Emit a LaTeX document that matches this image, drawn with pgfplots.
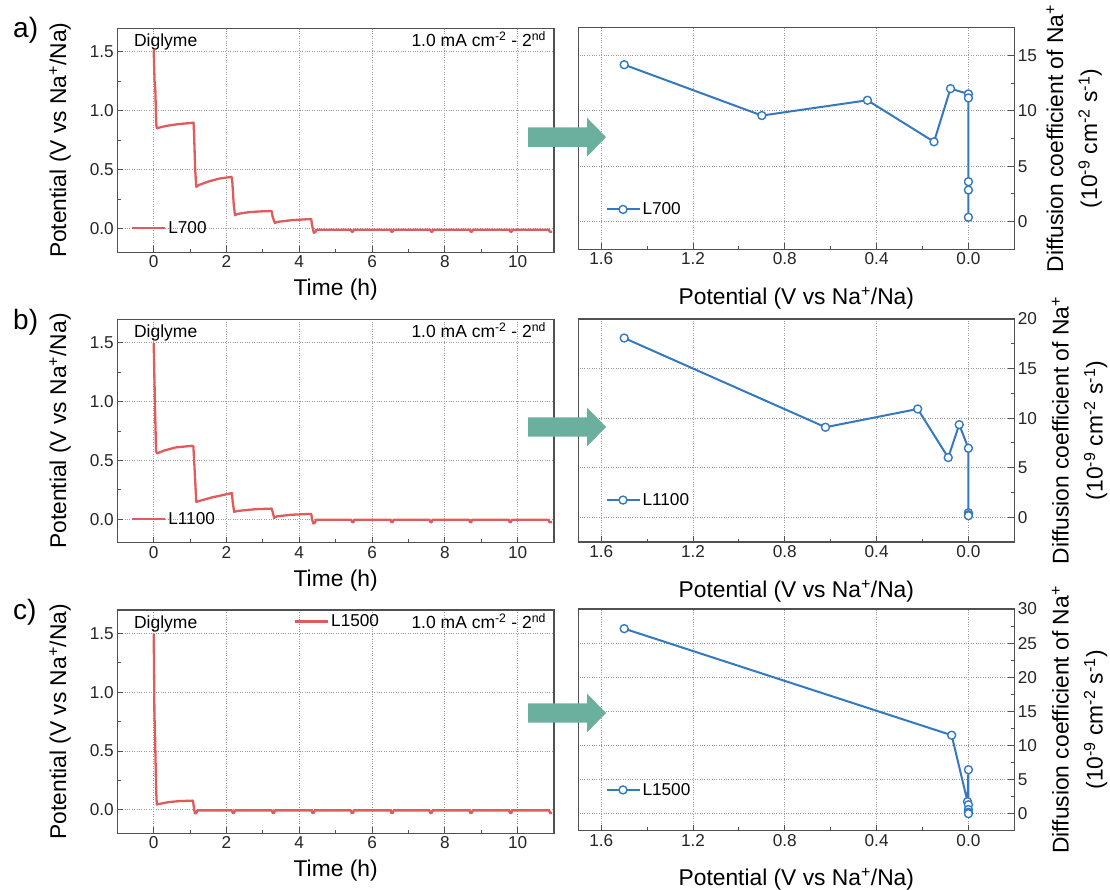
\documentclass[border=0pt]{standalone}
\usepackage{pgfplots}
\pgfplotsset{compat=1.18}
\usepackage{fontspec}
\setmainfont{Liberation Sans}
\definecolor{cred}{HTML}{E05C5C}
\definecolor{cblue}{HTML}{3479BF}
\definecolor{cteal}{HTML}{6BAF9F}
\definecolor{caxis}{HTML}{505050}
\newcommand{\tfont}{\fontsize{17.2}{19}\selectfont}
\newcommand{\afont}{\fontsize{17.5}{20}\selectfont}
\newcommand{\lfont}{\fontsize{22.8}{26}\selectfont}
\pgfplotsset{
  base/.style={
    scale only axis,
    axis line style={caxis, line width=1.2pt},
    every tick/.style={caxis, line width=1pt},
    major tick length=6pt, minor tick length=3.5pt,
    xmajorgrids, ymajorgrids,
    grid style={dotted, black!40, line width=0.8pt},
    tick label style={font=\tfont, text=black!85},
    /pgf/number format/assume math mode=true,
    legend style={draw=none, fill=none, font=\tfont, inner sep=0pt, nodes={inner sep=2pt}},
    legend cell align=left,
    legend image code/.code={\draw[mark repeat=2,mark phase=2,##1] plot coordinates {(0pt,0pt) (16.5pt,0pt) (33pt,0pt)};},
  },
  leftax/.style={base, width=436.7pt, height=224pt,
    xmin=-1, xmax=11, ymin=-0.2, ymax=1.7,
    xtick={0,2,4,6,8,10}, ytick={0,0.5,1,1.5},
    minor x tick num=1, minor y tick num=1,
    xtick pos=bottom, ytick pos=left,
    yticklabel style={/pgf/number format/.cd, fixed, fixed zerofill, precision=1},
    xlabel={Time (h)}, ylabel={Potential (V vs Na\textsuperscript{+}/Na)},
    label style={font=\lfont},
    xlabel style={at={(axis description cs:0.5,-0.168)}, anchor=center},
    ylabel style={at={(axis description cs:-0.131,0.5)}, anchor=center}},
  rightax/.style={base, width=436pt,
    xmin=-0.2, xmax=1.7, x dir=reverse,
    xtick={0,0.4,0.8,1.2,1.6}, minor x tick num=1, minor y tick num=1,
    xtick pos=bottom, ytick pos=right, yticklabel pos=right,
    xticklabel style={/pgf/number format/.cd, fixed, fixed zerofill, precision=1},
    xlabel={Potential (V vs Na\textsuperscript{+}/Na)},
    ylabel={Diffusion coefficient of Na\textsuperscript{+}\\(10\textsuperscript{-9} cm\textsuperscript{-2} s\textsuperscript{-1})},
    label style={font=\lfont},
    xlabel style={at={(axis description cs:0.5,-0.22)}, anchor=center},
    ylabel style={align=center, font=\fontsize{22.8}{34}\selectfont, anchor=center}},
  redline/.style={cred, line width=2.3pt, no markers, line join=round},
  blueline/.style={cblue, line width=2pt, line join=round, mark=*, mark size=4pt, mark options={fill=white, draw=cblue, line width=1.4pt}},
}
\begin{document}
\begin{tikzpicture}
\path[use as bounding box] (0,0) rectangle (1110pt,-890pt);

% ---------- row a, left ----------
\begin{axis}[leftax, at={(117.3pt,-28.3pt)}, anchor=north west,
  legend style={at={(axis description cs:0.031,0.107)}, anchor=west}]
\addplot[redline] coordinates {
(0,1.52) (0.01,1.40) (0.025,1.25) (0.045,1.18) (0.06,1.0) (0.075,0.87) (0.09,0.852)
(0.2,0.862) (0.4,0.875) (0.7,0.888) (1.0,0.896) (1.095,0.900)
(1.11,0.80) (1.14,0.50) (1.17,0.355) (1.25,0.372) (1.5,0.400) (1.8,0.425) (2.14,0.440)
(2.16,0.40) (2.20,0.20) (2.235,0.114) (2.3,0.125) (2.6,0.140) (3.0,0.148) (3.24,0.150)
(3.27,0.10) (3.33,0.048) (3.4,0.058) (3.8,0.073) (4.33,0.082)
(4.35,0.03) (4.40,-0.034) (4.44,-0.030) (4.47,-0.008)
(5.42,-0.008) (5.44,-0.025) (5.48,-0.025) (5.50,-0.008)
(6.51,-0.008) (6.53,-0.025) (6.57,-0.025) (6.59,-0.008)
(7.60,-0.008) (7.62,-0.025) (7.66,-0.025) (7.68,-0.008)
(8.69,-0.008) (8.71,-0.025) (8.75,-0.025) (8.77,-0.008)
(9.78,-0.008) (9.80,-0.025) (9.84,-0.025) (9.86,-0.008)
(10.86,-0.008) (10.88,-0.025) (10.95,-0.025)
};
\addlegendentry{L700}
\node[anchor=base west, inner sep=0pt, font=\afont] at (rel axis cs:0.038,0.918) {Diglyme};
\node[anchor=base east, inner sep=0pt, font=\afont] at (rel axis cs:0.982,0.918) {1.0 mA cm\textsuperscript{-2} - 2\textsuperscript{nd}};
\end{axis}

% ---------- row a, right ----------
\begin{axis}[rightax, height=221.6pt, at={(578.3pt,-27.7pt)}, anchor=north west,
  ymin=-2.5, ymax=17.5, ytick={0,5,10,15},
  ylabel style={at={(axis description cs:1.137,0.5)}},
  legend style={at={(axis description cs:0.062,0.18)}, anchor=west}]
\addplot[blueline] coordinates {
(1.50,14.16) (0.90,9.57) (0.44,10.95) (0.15,7.2) (0.078,12.0) (0.0,11.52) (0.0,11.16) (0.0,3.6) (0.0,2.85) (0.0,0.39)
};
\addlegendentry{L700}
\end{axis}

% ---------- row b, left ----------
\begin{axis}[leftax, height=223.4pt, at={(117.3pt,-319.3pt)}, anchor=north west,
  legend style={at={(axis description cs:0.031,0.106)}, anchor=west}]
\addplot[redline] coordinates {
(0,1.50) (0.02,1.2) (0.04,0.9) (0.065,0.58) (0.09,0.56)
(0.3,0.585) (0.6,0.61) (1.05,0.624) (1.09,0.62)
(1.12,0.45) (1.17,0.147) (1.25,0.155) (1.6,0.185) (2.15,0.222)
(2.17,0.15) (2.21,0.062) (2.3,0.07) (2.8,0.085) (3.24,0.09)
(3.27,0.06) (3.31,0.012) (3.4,0.025) (3.8,0.038) (4.33,0.045)
(4.35,0.0) (4.39,-0.037) (4.43,-0.03) (4.46,-0.005)
(5.43,-0.005) (5.45,-0.025) (5.49,-0.025) (5.51,-0.005)
(6.51,-0.005) (6.53,-0.025) (6.57,-0.025) (6.59,-0.005)
(7.58,-0.005) (7.60,-0.025) (7.64,-0.025) (7.66,-0.005)
(8.67,-0.005) (8.69,-0.025) (8.73,-0.025) (8.75,-0.005)
(9.76,-0.005) (9.78,-0.025) (9.82,-0.025) (9.84,-0.005)
(10.85,-0.005) (10.87,-0.025) (10.95,-0.025)
};
\addlegendentry{L1100}
\node[anchor=base west, inner sep=0pt, font=\afont] at (rel axis cs:0.038,0.918) {Diglyme};
\node[anchor=base east, inner sep=0pt, font=\afont] at (rel axis cs:0.982,0.918) {1.0 mA cm\textsuperscript{-2} - 2\textsuperscript{nd}};
\end{axis}

% ---------- row b, right ----------
\begin{axis}[rightax, height=223pt, at={(578.3pt,-319pt)}, anchor=north west,
  ymin=-2.5, ymax=20, ytick={0,5,10,15,20},
  ylabel style={at={(axis description cs:1.15,0.5)}},
  legend style={at={(axis description cs:0.062,0.188)}, anchor=west}]
\addplot[blueline] coordinates {
(1.50,18.08) (0.623,9.08) (0.221,10.92) (0.088,6.02) (0.04,9.34) (0.0,6.96) (0.0,0.45) (0.0,0.25) (0.0,0.15)
};
\addlegendentry{L1100}
\end{axis}

% ---------- row c, left ----------
\begin{axis}[leftax, height=223.3pt, at={(117.3pt,-610pt)}, anchor=north west,
  legend style={at={(axis description cs:0.404,0.948)}, anchor=west}]
\addplot[redline] coordinates {
(0,1.50) (0.01,1.2) (0.02,0.82) (0.04,0.6) (0.05,0.43) (0.07,0.15) (0.085,0.045)
(0.12,0.048) (0.4,0.065) (0.7,0.074) (1.08,0.078)
(1.10,0.03) (1.13,-0.03) (1.17,-0.028) (1.2,-0.005)
(2.15,-0.005) (2.17,-0.028) (2.21,-0.028) (2.23,-0.005)
(3.25,-0.005) (3.27,-0.028) (3.31,-0.028) (3.33,-0.005)
(4.34,-0.005) (4.36,-0.028) (4.40,-0.028) (4.42,-0.005)
(5.42,-0.005) (5.44,-0.028) (5.48,-0.028) (5.50,-0.005)
(6.51,-0.005) (6.53,-0.028) (6.57,-0.028) (6.59,-0.005)
(7.58,-0.005) (7.60,-0.028) (7.64,-0.028) (7.66,-0.005)
(8.68,-0.005) (8.70,-0.028) (8.74,-0.028) (8.76,-0.005)
(9.77,-0.005) (9.79,-0.028) (9.83,-0.028) (9.85,-0.005)
(10.87,-0.005) (10.89,-0.028) (10.95,-0.028)
};
\addlegendentry{L1500}
\node[anchor=base west, inner sep=0pt, font=\afont] at (rel axis cs:0.038,0.918) {Diglyme};
\node[anchor=base east, inner sep=0pt, font=\afont] at (rel axis cs:0.982,0.918) {1.0 mA cm\textsuperscript{-2} - 2\textsuperscript{nd}};
\end{axis}

% ---------- row c, right ----------
\begin{axis}[rightax, height=221.7pt, at={(578.3pt,-609pt)}, anchor=north west,
  ymin=-2.5, ymax=30, ytick={0,5,10,15,20,25,30},
  ylabel style={at={(axis description cs:1.15,0.5)}},
  legend style={at={(axis description cs:0.062,0.184)}, anchor=west}]
\addplot[blueline] coordinates {
(1.50,27.12) (0.073,11.5) (0.004,1.76) (0.0,6.44) (0.0,1.3) (0.0,0.6) (0.0,0.2) (0.0,0.0)
};
\addlegendentry{L1500}
\end{axis}

% ---------- arrows ----------
\foreach \cy in {137.2, 427, 713}{
  \fill[cteal] (528pt,-\cy pt+9.7pt) -- (587pt,-\cy pt+9.7pt) -- (587pt,-\cy pt+19.5pt)
     -- (606pt,-\cy pt) -- (587pt,-\cy pt-19.5pt) -- (587pt,-\cy pt-9.7pt) -- (528pt,-\cy pt-9.7pt) -- cycle;
}

% ---------- panel letters ----------
\node[anchor=base west, inner sep=0pt, font=\fontsize{28}{30}\selectfont] at (13pt,-37.5pt) {a)};
\node[anchor=base west, inner sep=0pt, font=\fontsize{28}{30}\selectfont] at (13pt,-329pt) {b)};
\node[anchor=base west, inner sep=0pt, font=\fontsize{28}{30}\selectfont] at (13pt,-619pt) {c)};
\end{tikzpicture}
\end{document}
